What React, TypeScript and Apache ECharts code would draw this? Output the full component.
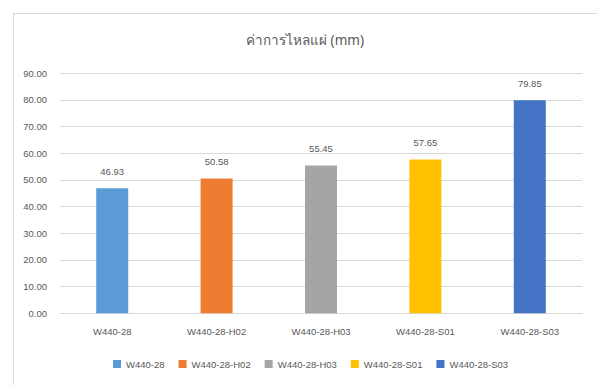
import React, { useEffect, useRef } from "react";
import * as echarts from "echarts";

const categories = ["W440-28", "W440-28-H02", "W440-28-H03", "W440-28-S01", "W440-28-S03"];
const flowValues = [46.93, 50.58, 55.45, 57.65, 79.85];
const barColors = ["#5B9BD5", "#ED7D31", "#A5A5A5", "#FFC000", "#4472C4"];
const chartTitle = "ค่าการไหลแผ่ (mm)";

const FONT = "'Liberation Sans', Roboto, sans-serif";
const TEXT = "#595959";
const LINE = "#d9d9d9";
const SIZE = 9.5;

export default function App() {
  const ref = useRef<HTMLDivElement>(null);

  useEffect(() => {
    if (!ref.current) return;
    const chart = echarts.init(ref.current, null, { renderer: "svg" });

    // one series per category, stacked so each bar sits centred on its slot
    const series = categories.map((name, i) => ({
      name,
      type: "bar",
      stack: "all",
      barWidth: 32,
      itemStyle: { color: barColors[i] },
      data: categories.map((_, j) => (j === i ? flowValues[i] : "-")),
      label: {
        show: true,
        position: "top",
        distance: 12,
        color: TEXT,
        fontFamily: FONT,
        fontSize: SIZE,
        formatter: (p: any) => Number(p.value).toFixed(2),
      },
    }));

    chart.setOption({
      animation: false,
      backgroundColor: "#ffffff",
      textStyle: { fontFamily: FONT },
      graphic: [
        {
          type: "rect",
          shape: { x: 13.5, y: 13.5, width: 700, height: 500 },
          style: { fill: "none", stroke: LINE, lineWidth: 1 },
          silent: true,
        },
        {
          type: "text",
          x: 305,
          y: 40,
          style: {
            text: chartTitle,
            fill: TEXT,
            fontSize: 13.5,
            fontFamily: "'Noto Sans', 'DejaVu Sans', sans-serif",
            textAlign: "center",
            textVerticalAlign: "middle",
          },
        },
      ],
      grid: { left: 60, right: 15, top: 73.3, bottom: 71.7 },
      legend: {
        left: 113,
        top: 359,
        padding: 0,
        itemWidth: 8,
        itemHeight: 8,
        itemGap: 14,
        icon: "rect",
        textStyle: { color: TEXT, fontSize: SIZE, fontFamily: FONT },
        data: categories,
      },
      xAxis: {
        type: "category",
        data: categories,
        axisTick: { show: false },
        axisLine: { lineStyle: { color: LINE } },
        axisLabel: { color: TEXT, fontSize: SIZE, fontFamily: FONT, margin: 13 },
      },
      yAxis: {
        type: "value",
        min: 0,
        max: 90,
        interval: 10,
        axisLine: { show: false },
        axisTick: { show: false },
        splitLine: { lineStyle: { color: LINE } },
        axisLabel: {
          color: TEXT,
          fontSize: SIZE,
          fontFamily: FONT,
          margin: 13,
          formatter: (v: number) => v.toFixed(2),
        },
      },
      series,
    });

    return () => chart.dispose();
  }, []);

  return (
    <div
      ref={ref}
      style={{ position: "fixed", left: 0, top: 0, width: 597, height: 385 }}
    />
  );
}
